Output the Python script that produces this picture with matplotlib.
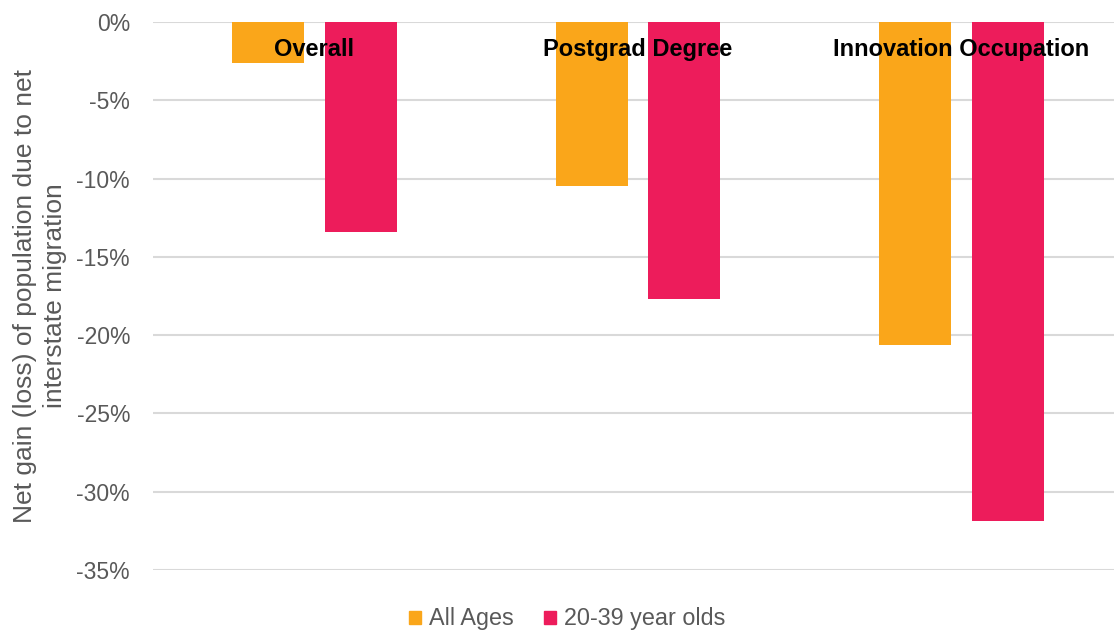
import numpy as np
import matplotlib.pyplot as plt
from matplotlib.patches import Patch

plt.rcParams['font.family'] = ['Liberation Sans', 'DejaVu Sans']

# Net interstate migration by group
categories = ['Overall', 'Postgrad Degree', 'Innovation Occupation']
all_ages = [-2.6, -10.5, -20.6]
young = [-13.4, -17.7, -31.9]
series_names = ['All Ages', '20-39 year olds']
yticks = [0, -5, -10, -15, -20, -25, -30, -35]

orange = '#FAA61A'
red = '#ED1C5B'
grey = '#595959'

fig = plt.figure(figsize=(11.14, 6.32), dpi=100)
ax = fig.add_axes([153 / 1114, 1 - 570 / 632, 1 - 153 / 1114, (570 - 22) / 632])

x = np.arange(len(categories))
w = 0.223
off = 0.143
ax.bar(x - off, all_ages, width=w, color=orange, zorder=3)
ax.bar(x + off, young, width=w, color=red, zorder=3)

ax.set_ylim(-35, 0)
ax.set_xlim(-0.499, 2.471)
ax.set_yticks(yticks)
ax.set_yticklabels([f'{t}%' for t in yticks])
ax.tick_params(axis='y', length=0, pad=16.5, labelsize=16.5, labelcolor=grey)
ax.set_xticks([])
ax.grid(axis='y', color='#D9D9D9', linewidth=1.5, zorder=0)
for s in ax.spines.values():
    s.set_visible(False)

# category names sit just under the zero line
for i, name in enumerate(categories):
    ax.annotate(name, xy=(x[i], 1), xycoords=('data', 'axes fraction'),
                xytext=(0, -19.5), textcoords='offset points',
                ha='center', va='center', fontsize=17, fontweight='bold',
                color='black', zorder=5)

ax.set_ylabel('Net gain (loss) of population due to net\ninterstate migration',
              fontsize=19, color=grey, va='center', linespacing=1.3)
ax.yaxis.set_label_coords((40 - 153) / 961, 0.5)

handles = [Patch(color=orange), Patch(color=red)]
fig.legend(handles, series_names, loc='center', bbox_to_anchor=(567 / 1114, 1 - 619 / 632),
           ncol=2, frameon=False, fontsize=16.8, labelcolor=grey,
           handlelength=0.5, handleheight=0.5, handletextpad=0.35, columnspacing=1.3)

fig.savefig('out.png', dpi=100)
